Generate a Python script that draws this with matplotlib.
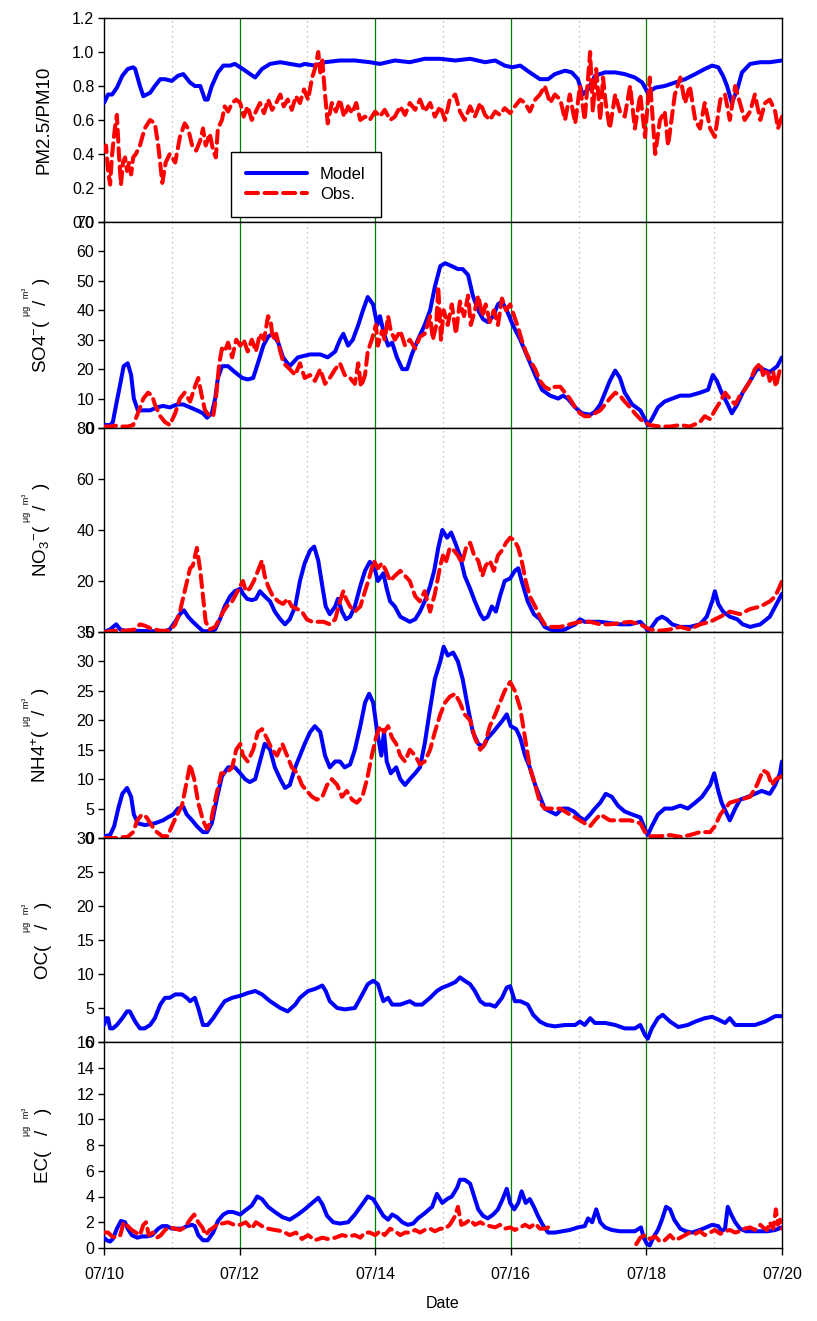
import numpy as np
import matplotlib
matplotlib.use("Agg")
import matplotlib.pyplot as plt

plt.rcParams['font.family'] = ['Liberation Sans', 'DejaVu Sans']
plt.rcParams['mathtext.fontset'] = 'custom'
plt.rcParams['mathtext.rm'] = 'Liberation Sans'
plt.rcParams['mathtext.it'] = 'Liberation Sans'

# ---------------- data (time in days since 07/10 00:00) ----------------
x_tick_days = [0, 2, 4, 6, 8, 10]
x_tick_labels = ['07/10', '07/12', '07/14', '07/16', '07/18', '07/20']

# PM2.5/PM10
pm_mod_t = [0.00,0.06,0.12,0.19,0.27,0.35,0.43,0.46,0.53,0.58,0.68,0.75,0.83,0.90,1.00,1.09,1.17,1.27,1.34,1.42,1.49,1.53,1.59,1.68,1.76,1.86,1.93,2.01,2.12,2.23,2.33,2.45,2.60,2.74,2.89,2.96,3.11,3.26,3.48,3.70,3.92,4.07,4.29,4.51,4.73,4.96,5.18,5.40,5.62,5.77,5.91,6.02,6.14,6.28,6.43,6.55,6.65,6.80,6.90,6.99,7.06,7.14,7.24,7.39,7.54,7.68,7.83,7.94,8.02,8.13,8.27,8.42,8.57,8.72,8.86,8.97,9.06,9.13,9.19,9.26,9.34,9.41,9.53,9.68,9.82,10.0]
pm_mod_v = [0.70,0.75,0.75,0.79,0.86,0.90,0.91,0.90,0.80,0.74,0.76,0.80,0.84,0.84,0.83,0.86,0.87,0.82,0.80,0.80,0.72,0.72,0.80,0.88,0.92,0.92,0.93,0.91,0.88,0.85,0.90,0.93,0.94,0.93,0.92,0.93,0.92,0.94,0.95,0.95,0.94,0.93,0.95,0.94,0.96,0.96,0.95,0.96,0.94,0.95,0.92,0.91,0.92,0.88,0.84,0.84,0.87,0.89,0.88,0.84,0.75,0.78,0.86,0.88,0.88,0.87,0.85,0.82,0.76,0.79,0.80,0.82,0.84,0.87,0.90,0.92,0.91,0.86,0.80,0.70,0.78,0.88,0.93,0.94,0.94,0.95]
pm_obs_t = [0.00,0.03,0.06,0.09,0.12,0.16,0.19,0.22,0.25,0.28,0.31,0.34,0.37,0.40,0.43,0.47,0.53,0.60,0.68,0.75,0.80,0.86,0.91,0.97,1.02,1.05,1.12,1.19,1.24,1.30,1.36,1.42,1.46,1.50,1.56,1.61,1.65,1.68,1.74,1.78,1.83,1.89,1.95,2.01,2.06,2.12,2.18,2.24,2.30,2.36,2.42,2.48,2.54,2.60,2.65,2.71,2.77,2.83,2.89,2.95,3.01,3.07,3.11,3.16,3.19,3.22,3.26,3.30,3.36,3.42,3.48,3.54,3.60,3.66,3.72,3.78,3.85,3.92,4.00,4.07,4.14,4.22,4.29,4.37,4.44,4.51,4.59,4.66,4.73,4.81,4.88,4.96,5.03,5.10,5.18,5.25,5.32,5.40,5.47,5.55,5.62,5.69,5.77,5.84,5.91,5.99,6.06,6.14,6.21,6.28,6.36,6.43,6.50,6.58,6.65,6.73,6.80,6.87,6.95,7.02,7.09,7.17,7.21,7.26,7.32,7.36,7.40,7.46,7.54,7.61,7.68,7.76,7.83,7.91,7.98,8.05,8.13,8.20,8.27,8.32,8.42,8.50,8.57,8.64,8.72,8.79,8.86,8.94,9.01,9.09,9.16,9.23,9.31,9.38,9.45,9.53,9.60,9.68,9.75,9.82,9.90,9.94,10.0]
pm_obs_v = [0.42,0.45,0.30,0.22,0.40,0.55,0.63,0.40,0.22,0.35,0.38,0.30,0.35,0.28,0.38,0.40,0.45,0.55,0.60,0.58,0.45,0.23,0.35,0.40,0.37,0.35,0.50,0.58,0.55,0.45,0.42,0.48,0.55,0.45,0.52,0.42,0.38,0.55,0.60,0.68,0.65,0.70,0.72,0.70,0.62,0.68,0.60,0.65,0.70,0.64,0.72,0.66,0.70,0.75,0.68,0.72,0.66,0.74,0.70,0.78,0.72,0.85,0.90,1.00,0.88,0.95,0.75,0.58,0.70,0.65,0.72,0.62,0.68,0.64,0.70,0.60,0.62,0.60,0.65,0.62,0.66,0.60,0.62,0.68,0.63,0.70,0.66,0.72,0.65,0.70,0.62,0.68,0.60,0.72,0.75,0.65,0.60,0.68,0.62,0.70,0.63,0.60,0.65,0.63,0.67,0.64,0.68,0.72,0.70,0.65,0.72,0.75,0.80,0.70,0.75,0.72,0.60,0.75,0.58,0.80,0.60,1.00,0.65,0.90,0.60,0.85,0.70,0.55,0.75,0.65,0.62,0.80,0.55,0.75,0.50,0.85,0.40,0.60,0.65,0.45,0.75,0.85,0.70,0.80,0.60,0.55,0.70,0.55,0.50,0.72,0.75,0.60,0.80,0.70,0.60,0.65,0.75,0.60,0.70,0.72,0.65,0.55,0.62]

# SO4
so4_mod_t = [0.00,0.09,0.13,0.18,0.24,0.29,0.35,0.40,0.44,0.50,0.58,0.68,0.78,0.87,0.97,1.08,1.17,1.27,1.37,1.46,1.52,1.59,1.64,1.68,1.74,1.83,1.93,2.04,2.12,2.20,2.27,2.35,2.42,2.49,2.57,2.64,2.74,2.86,3.04,3.19,3.30,3.41,3.48,3.53,3.60,3.67,3.75,3.82,3.89,3.97,4.03,4.07,4.13,4.19,4.25,4.32,4.40,4.47,4.54,4.63,4.73,4.81,4.88,4.96,5.03,5.13,5.22,5.29,5.37,5.44,5.52,5.59,5.66,5.74,5.81,5.87,5.94,6.03,6.14,6.25,6.36,6.46,6.58,6.70,6.77,6.84,6.95,7.05,7.17,7.24,7.32,7.39,7.46,7.54,7.61,7.68,7.79,7.91,7.98,8.02,8.08,8.17,8.27,8.38,8.50,8.64,8.79,8.91,8.98,9.04,9.11,9.20,9.26,9.34,9.42,9.53,9.63,9.72,9.82,9.93,10.0]
so4_mod_v = [1,1,2,8,15,21,22,18,10,6,6,6,7,7.5,7,8,8,7,6,5,3.5,5,10,17,21,21,19,17,16.5,17,22,28,31,32,29,24,21,24,25,25,24,26,30,32,28,30,35,40,44.5,42,35,38,32,28,29,24,20,20,25,30,35,40,48,55,56,55,54,54,52,45,40,37,36,38,42,43,40,35,30,24,18,13,11,10,11,10,7,5,4.5,5.5,8,12,16,19.5,17,12,8,6,3,1,3,7,9,10,11,11,12,13,18,16,12,8,5,8,12,16,20,20,19,21,24]
so4_obs_t = [0.00,0.09,0.16,0.24,0.35,0.43,0.50,0.58,0.65,0.71,0.75,0.83,0.90,0.97,1.05,1.12,1.19,1.27,1.34,1.39,1.45,1.49,1.56,1.61,1.65,1.70,1.74,1.78,1.83,1.89,1.95,2.01,2.06,2.12,2.18,2.24,2.30,2.36,2.42,2.46,2.49,2.54,2.60,2.65,2.74,2.82,2.89,2.96,3.04,3.11,3.19,3.26,3.33,3.41,3.48,3.55,3.63,3.70,3.75,3.79,3.85,3.89,3.95,4.01,4.04,4.10,4.14,4.19,4.23,4.29,4.37,4.44,4.51,4.59,4.66,4.73,4.81,4.85,4.90,4.93,4.97,5.01,5.07,5.13,5.19,5.25,5.31,5.37,5.41,5.47,5.52,5.58,5.63,5.69,5.75,5.81,5.87,5.93,5.99,6.05,6.11,6.16,6.22,6.28,6.36,6.43,6.50,6.58,6.65,6.73,6.80,6.87,6.95,7.02,7.09,7.17,7.24,7.32,7.39,7.46,7.54,7.61,7.68,7.76,7.83,7.91,7.98,8.05,8.20,8.35,8.50,8.64,8.79,8.86,8.94,9.01,9.09,9.16,9.23,9.31,9.38,9.45,9.53,9.60,9.68,9.72,9.78,9.82,9.87,9.91,9.97,10.0]
so4_obs_v = [0.5,0.5,0.8,0.5,0.5,1,5,10,12,11,8,4,2,1,5,10,12,9,14,17,10,6,4,4,10,22,27,26,29,24,30,28,30,26,30,26,32,30,38,36,30,32,26,22,20,18,22,17,18,16,20,15,17,20,22,18,17,15,22,14,18,26,30,35,28,33,30,38,33,30,33,28,30,27,31,32,38,30,35,48,30,40,35,42,32,43,38,45,35,40,45,38,42,36,40,35,44,40,42,38,34,30,26,23,20,16,14,13,14,14,12,10,7,5,4,4,5,6,8,10,12,11,9,7,5,3,2,1,0.5,0.5,1,0.5,2,4,3,6,9,12,10,8,11,13,16,20,22,18,20,16,19,14,20,19]

# NO3
no3_mod_t = [0.00,0.09,0.18,0.24,0.31,0.46,0.68,0.90,0.97,1.05,1.12,1.18,1.24,1.31,1.39,1.46,1.56,1.64,1.71,1.78,1.86,1.93,2.01,2.05,2.11,2.18,2.24,2.30,2.37,2.45,2.52,2.60,2.67,2.74,2.82,2.89,2.96,3.04,3.10,3.16,3.22,3.27,3.33,3.41,3.45,3.51,3.57,3.63,3.70,3.78,3.85,3.92,3.98,4.04,4.12,4.17,4.22,4.29,4.37,4.44,4.51,4.59,4.66,4.73,4.81,4.87,4.93,4.99,5.06,5.12,5.18,5.25,5.32,5.40,5.47,5.55,5.60,5.66,5.72,5.78,5.84,5.91,5.99,6.06,6.11,6.16,6.25,6.34,6.43,6.50,6.58,6.65,6.73,6.80,6.87,6.95,7.02,7.09,7.17,7.32,7.46,7.61,7.76,7.91,7.98,8.02,8.08,8.16,8.23,8.30,8.38,8.50,8.64,8.79,8.89,8.97,9.01,9.06,9.13,9.23,9.34,9.42,9.53,9.68,9.82,9.94,10.0]
no3_mod_v = [0,1,3,1,0.5,0.5,0.3,0.3,1,4,7,8.5,6,4,2,0.3,0.3,1,5,10,14,16,17,15,13,12.5,13,16,14,12,8,5,3,5,10,20,27,32,33.5,28,18,10,7,10,13,8,5,6,10,18,24,27.5,26,20,23,17,12,10,6,5,4,5,8,12,18,24,33,40,37,39,35,30,22,17,12,7,5,6,10,8,14,20,21,24,25,20,12,7,5,2,1,0.5,0.5,1,2,3,5,4,4,4,3.5,3,3,4,2,0.5,2,5,6,5,3,2,2,3,6,12,16,11,8,6,5,3,2,3,6,12,15]
no3_obs_t = [0.00,0.16,0.31,0.46,0.53,0.60,0.68,0.75,0.83,0.97,1.05,1.12,1.19,1.27,1.31,1.37,1.42,1.46,1.50,1.56,1.64,1.70,1.76,1.81,1.89,1.95,2.01,2.05,2.09,2.15,2.21,2.27,2.33,2.37,2.42,2.49,2.57,2.64,2.71,2.77,2.85,2.92,2.99,3.07,3.16,3.24,3.33,3.41,3.48,3.53,3.57,3.63,3.70,3.78,3.85,3.92,3.98,4.04,4.10,4.16,4.22,4.29,4.37,4.44,4.51,4.59,4.66,4.73,4.81,4.88,4.96,5.00,5.04,5.10,5.16,5.22,5.28,5.34,5.40,5.46,5.52,5.58,5.63,5.69,5.75,5.81,5.87,5.93,5.99,6.05,6.11,6.16,6.22,6.28,6.36,6.43,6.50,6.58,6.73,6.87,7.02,7.17,7.32,7.46,7.61,7.76,7.91,8.05,8.20,8.35,8.50,8.64,8.79,8.94,9.09,9.23,9.38,9.53,9.68,9.82,9.90,9.97,10.0]
no3_obs_v = [0,0.5,0.5,1,3,2.5,1.5,1,0.5,0.5,3,8,16,25,26,33,24,14,4,1,2,5,8,10,12,15,18,20,16,17,20,24,28,22,18,14,12,11,13,10,9,8,5,4,4,4,3,5,12,16,13,10,8,10,16,22,28,25,27,24,20,22,24,22,20,14,12,16,8,15,26,30,27,33,32,30,27,33,35,30,28,22,26,28,24,30,32,35,37,36,33,28,20,14,10,6,3,2,2,3,4,4,3,3,3.5,4,3,1,0.5,1,2,1,3,4,6,8,7,9,10,12,14,18,20]

# NH4
nh4_mod_t = [0.00,0.09,0.15,0.21,0.27,0.34,0.40,0.44,0.50,0.60,0.75,0.87,0.94,1.02,1.09,1.17,1.22,1.30,1.37,1.46,1.52,1.59,1.67,1.74,1.83,1.93,2.01,2.08,2.15,2.23,2.30,2.37,2.45,2.52,2.60,2.67,2.74,2.82,2.89,2.96,3.04,3.11,3.19,3.26,3.33,3.41,3.48,3.55,3.63,3.70,3.78,3.85,3.91,3.97,4.03,4.09,4.13,4.17,4.23,4.31,4.37,4.44,4.51,4.59,4.66,4.73,4.81,4.88,4.96,5.01,5.07,5.15,5.22,5.29,5.37,5.44,5.52,5.59,5.66,5.74,5.81,5.88,5.94,6.00,6.08,6.14,6.21,6.28,6.36,6.43,6.50,6.58,6.67,6.76,6.84,6.93,7.02,7.09,7.17,7.24,7.32,7.40,7.49,7.58,7.68,7.79,7.91,7.98,8.02,8.08,8.17,8.27,8.38,8.50,8.61,8.72,8.82,8.94,9.00,9.06,9.11,9.19,9.23,9.31,9.38,9.50,9.60,9.70,9.82,9.90,9.97,10.0]
nh4_mod_v = [0.3,0.5,2,5,7.5,8.5,7,4,2.5,2.2,2.5,3,3.5,4,5,5.3,4,3,2,1,1,2.5,7,10.5,12,12,11,10,9.5,10,13,16,15,12,10,8.5,9,12,14,16,18,19,18,14,12,13,13,12,12.5,15,19,23,24.5,23,18,14,18,13,11,12,10,9,10,11,12,16,22,27,30,32.5,31,31.5,30,27,22,18,16,15.5,17,18,19,20,21,19,18.5,17,14,12,9,7,5,4.5,4,5,5,4.5,3.5,3,4,5,6,7.5,7,5.5,4.5,4,3.5,1.5,0.5,2,4,5,5,5.5,5,6,7,9,11,8,6,4,3,5,6.5,7,7.5,8,7.5,9,11,13]
nh4_obs_t = [0.00,0.16,0.35,0.43,0.49,0.56,0.63,0.71,0.78,0.86,0.94,1.00,1.08,1.15,1.21,1.27,1.33,1.39,1.46,1.52,1.58,1.65,1.73,1.80,1.89,1.95,2.01,2.05,2.12,2.20,2.27,2.33,2.40,2.48,2.55,2.63,2.70,2.77,2.85,2.92,2.99,3.07,3.14,3.22,3.29,3.36,3.44,3.51,3.58,3.66,3.73,3.81,3.88,3.95,4.01,4.07,4.13,4.19,4.25,4.31,4.37,4.44,4.51,4.59,4.66,4.73,4.81,4.88,4.96,5.03,5.10,5.18,5.25,5.32,5.40,5.47,5.55,5.62,5.69,5.77,5.84,5.91,5.99,6.06,6.14,6.21,6.28,6.36,6.43,6.50,6.58,6.73,6.80,6.87,6.95,7.02,7.09,7.17,7.24,7.32,7.39,7.46,7.61,7.76,7.91,7.98,8.05,8.20,8.35,8.50,8.64,8.79,8.94,9.01,9.09,9.16,9.23,9.38,9.53,9.63,9.72,9.79,9.85,9.91,10.0]
nh4_obs_v = [0,0,0.2,1,3,4,3.5,2,1,0.3,0.3,2,4,5.5,9,12.5,10,6,3,1.5,3,7,11,11,12,15,16,14,13,15,18,18.5,17,15,14,16,14,12,11,9,8,7,6.5,7,9,10,9,7,8,6.5,6,7,10,14,17,19,18,19,17,16,14,13,15,14,12.5,13,15,18,21,23,24,24.5,23,21,20,17,15,16,19,21,23,25,26.5,25,22,17,12,9,6,5,5,5,4.5,4,3.5,3,2.5,2,3,4,3.5,3,3,3,2.5,1,0.3,0.3,0.5,0.2,0.5,1,1,2,4,5,6,6.5,7,9,11.5,11,9,10,10.5]

# OC (model only)
oc_mod_t = [0.00,0.03,0.06,0.09,0.13,0.19,0.27,0.34,0.38,0.46,0.53,0.60,0.68,0.75,0.83,0.90,0.97,1.05,1.15,1.22,1.27,1.34,1.39,1.46,1.53,1.61,1.71,1.78,1.89,2.01,2.12,2.23,2.33,2.45,2.60,2.71,2.82,2.89,3.01,3.11,3.22,3.27,3.33,3.44,3.55,3.70,3.81,3.89,3.97,4.04,4.12,4.19,4.25,4.37,4.51,4.59,4.69,4.81,4.91,4.99,5.07,5.18,5.25,5.32,5.40,5.47,5.55,5.62,5.69,5.77,5.87,5.94,5.99,6.06,6.14,6.25,6.33,6.43,6.53,6.65,6.80,6.95,7.02,7.09,7.17,7.24,7.39,7.54,7.68,7.83,7.91,7.98,8.02,8.08,8.17,8.24,8.35,8.47,8.61,8.72,8.86,8.97,9.06,9.16,9.23,9.31,9.45,9.60,9.75,9.90,10.0]
oc_mod_v = [2.5,3.5,3.5,2,2,2.5,3.5,4.5,4.5,3,2,2,2.5,3.5,5.5,6.5,6.5,7,7,6.5,6,6.5,5,2.5,2.5,3.5,5,6,6.5,6.8,7.2,7.5,7,6,5,4.5,5.5,6.5,7.5,7.8,8.3,7.5,6,5,4.8,5,7,8.5,9,8.5,6,6.5,5.5,5.5,6,5.5,5.5,6.5,7.5,8,8.3,8.8,9.5,9,8.5,7.5,6,5.5,5.5,5.2,6.5,8,8.2,6,6,5.5,4,3,2.5,2.3,2.5,2.5,3,2.5,3.5,2.8,2.8,2.5,2,2,2.5,1,0.5,2,3.5,4,3,2.2,2.5,3,3.5,3.7,3.3,2.8,3.5,2.5,2.5,2.5,3,3.8,3.8]

# EC
ec_mod_t = [0.00,0.04,0.09,0.13,0.19,0.25,0.31,0.35,0.41,0.49,0.56,0.63,0.71,0.80,0.86,0.93,1.00,1.08,1.15,1.22,1.30,1.34,1.39,1.46,1.53,1.61,1.68,1.76,1.83,1.90,2.01,2.08,2.18,2.26,2.33,2.42,2.52,2.63,2.74,2.86,2.96,3.07,3.16,3.22,3.29,3.38,3.48,3.60,3.70,3.81,3.89,3.97,4.04,4.12,4.19,4.25,4.32,4.40,4.48,4.56,4.63,4.73,4.84,4.91,4.99,5.06,5.13,5.21,5.25,5.32,5.40,5.46,5.52,5.59,5.66,5.74,5.81,5.88,5.94,5.99,6.05,6.11,6.16,6.22,6.28,6.34,6.40,6.47,6.55,6.65,6.76,6.87,6.99,7.09,7.14,7.20,7.26,7.32,7.39,7.49,7.61,7.73,7.83,7.92,7.96,8.01,8.05,8.11,8.17,8.23,8.29,8.35,8.41,8.50,8.58,8.67,8.79,8.88,8.97,9.06,9.11,9.16,9.20,9.26,9.31,9.38,9.47,9.56,9.68,9.79,9.90,10.0]
ec_mod_v = [0.8,0.6,0.5,0.7,1.5,2.1,2.0,1.5,1.0,0.8,0.9,0.9,1.0,1.5,1.7,1.7,1.5,1.5,1.5,1.7,1.8,1.7,1.0,0.6,0.6,1.2,2.1,2.6,2.8,2.8,2.6,2.9,3.3,4.0,3.8,3.2,2.8,2.4,2.2,2.6,3.0,3.5,3.9,3.4,2.5,2.0,1.9,2.0,2.6,3.4,4.0,3.8,3.2,2.5,2.2,2.6,2.4,2.0,1.8,1.9,2.3,2.7,3.2,4.2,3.5,3.8,4.0,4.7,5.3,5.3,5.0,4.0,3.0,2.5,2.3,2.6,3.0,3.8,4.6,3.5,3.0,3.5,4.4,3.5,3.8,3.2,2.5,1.8,1.2,1.2,1.3,1.4,1.6,1.7,2.3,2.0,3.0,2.0,1.6,1.4,1.3,1.3,1.3,1.6,0.8,0.3,0.2,0.9,1.4,2.2,3.2,3.0,2.2,1.5,1.3,1.2,1.4,1.6,1.8,1.7,1.3,1.5,3.2,2.5,2.0,1.5,1.3,1.3,1.3,1.3,1.4,1.6]
ec_obs_t = [0.00,0.06,0.12,0.18,0.24,0.29,0.35,0.41,0.47,0.53,0.58,0.62,0.66,0.72,0.78,0.84,0.90,0.97,1.05,1.12,1.19,1.27,1.33,1.39,1.45,1.50,1.56,1.62,1.68,1.74,1.83,1.92,2.01,2.09,2.18,2.24,2.33,2.42,2.52,2.63,2.74,2.83,2.92,3.01,3.11,3.22,3.30,3.41,3.51,3.60,3.70,3.78,3.85,3.92,4.00,4.07,4.14,4.22,4.29,4.37,4.44,4.51,4.59,4.66,4.73,4.81,4.88,4.96,5.03,5.10,5.18,5.22,5.27,5.32,5.40,5.47,5.55,5.62,5.69,5.77,5.84,5.91,5.99,6.06,6.14,6.21,6.28,6.36,6.43,6.50,6.55,6.56,7.85,7.91,7.98,8.05,8.13,8.20,8.27,8.35,8.42,8.50,8.57,8.64,8.72,8.79,8.86,8.94,9.01,9.09,9.16,9.23,9.31,9.38,9.45,9.53,9.60,9.68,9.72,9.78,9.82,9.87,9.91,9.94,9.97,10.0]
ec_obs_v = [1.2,1.2,0.9,0.8,1.0,2.0,1.7,1.4,1.2,1.0,1.8,2.0,1.0,1.2,0.8,1.0,1.4,1.6,1.5,1.4,1.6,2.2,2.6,2.0,1.6,1.0,1.4,1.6,1.9,1.9,2.0,1.8,1.8,2.0,1.5,2.0,1.7,1.5,1.4,1.3,1.0,1.2,0.7,1.0,0.6,0.8,0.7,0.8,1.0,0.9,1.0,0.8,1.2,1.2,1.0,1.3,1.0,1.5,1.3,1.0,1.2,1.2,1.4,1.2,1.4,1.5,1.3,1.5,1.5,1.8,2.5,3.2,1.8,1.9,2.2,1.8,2.0,1.8,1.7,1.6,1.8,1.5,1.6,1.4,1.6,1.8,1.6,1.9,1.5,1.5,1.6,np.nan,0.3,0.8,1.0,0.7,0.9,0.5,0.6,1.0,0.6,0.8,1.0,1.2,1.1,1.3,1.0,1.2,1.4,1.1,1.3,1.4,1.2,1.3,1.5,1.6,1.4,1.8,1.6,1.4,2.0,1.5,3.0,1.8,2.2,1.5]

ylabels = ['PM2.5/PM10', 'SO4$^{-}$(   /   )', 'NO$_3$$^{-}$(   /   )',
           'NH4$^{+}$(   /   )', 'OC(   /   )', 'EC(   /   )']
unit_small = 'μg   m³'
ylims = [(0, 1.2), (0, 70), (0, 80), (0, 35), (0, 30), (0, 16)]
yticks = [np.arange(0, 1.21, 0.2), np.arange(0, 71, 10), np.arange(0, 81, 20),
          np.arange(0, 36, 5), np.arange(0, 31, 5), np.arange(0, 17, 2)]

series = [
    ((pm_mod_t, pm_mod_v), (pm_obs_t, pm_obs_v)),
    ((so4_mod_t, so4_mod_v), (so4_obs_t, so4_obs_v)),
    ((no3_mod_t, no3_mod_v), (no3_obs_t, no3_obs_v)),
    ((nh4_mod_t, nh4_mod_v), (nh4_obs_t, nh4_obs_v)),
    ((oc_mod_t, oc_mod_v), None),
    ((ec_mod_t, ec_mod_v), (ec_obs_t, ec_obs_v)),
]

# ---------------- figure ----------------
W, H = 817, 1321
fig = plt.figure(figsize=(W / 100, H / 100), dpi=100)
left_px, right_px = 104, 782
edges_px = [18, 222, 428, 632, 838, 1042, 1248]

axes = []
for i in range(6):
    top, bot = edges_px[i], edges_px[i + 1]
    ax = fig.add_axes([left_px / W, 1 - bot / H, (right_px - left_px) / W, (bot - top) / H])
    axes.append(ax)

for i, ax in enumerate(axes):
    ax.set_xlim(0, 10)
    ax.set_ylim(*ylims[i])
    ax.set_yticks(yticks[i])
    if i == 0:
        ax.set_yticklabels([f'{v:.1f}' for v in yticks[i]])
    else:
        ax.set_yticklabels([f'{v:g}' for v in yticks[i]])
    for d in [1, 3, 5, 7, 9]:
        ax.axvline(d, color='#b0b0b0', lw=0.9, ls=(0, (1, 3)), zorder=1)
    for d in [2, 4, 6, 8]:
        ax.axvline(d, color='#008000', lw=0.9, zorder=1)
    (mt, mv), obs = series[i]
    ax.plot(mt, mv, color='#0000ff', lw=2.9, zorder=3, label='Model',
            solid_joinstyle='round', solid_capstyle='round')
    if obs is not None:
        ax.plot(obs[0], obs[1], color='#ff0000', lw=2.9, ls=(0, (3, 1.6)), zorder=4,
                label='Obs.', dash_capstyle='round')
    ax.tick_params(axis='y', direction='out', length=4, width=1, labelsize=11.5, pad=3)
    ax.set_xticks(x_tick_days)
    if i == 5:
        ax.set_xticklabels(x_tick_labels)
        ax.tick_params(axis='x', direction='out', length=5, width=1, labelsize=11.5, pad=9)
        ax.set_xlabel('Date', fontsize=11.5, labelpad=10)
    else:
        ax.tick_params(axis='x', length=0, labelbottom=False)
    for s in ax.spines.values():
        s.set_linewidth(1.0)
    ax.set_ylabel(ylabels[i], fontsize=13.5)
    ax.yaxis.set_label_coords(-0.076, 0.5)
    if i > 0:
        ax.text(-0.115, 0.61, unit_small, transform=ax.transAxes, rotation=90,
                fontsize=6.5, ha='center', va='center')

leg = axes[0].legend(loc='lower left', bbox_to_anchor=(0.187, 0.025), fontsize=12,
                     frameon=True, fancybox=False, edgecolor='black', framealpha=1,
                     handlelength=3.65, handletextpad=0.8, labelspacing=0.32,
                     borderpad=0.9, borderaxespad=0)
leg.get_frame().set_linewidth(1.0)

fig.savefig('out.png', dpi=100)
